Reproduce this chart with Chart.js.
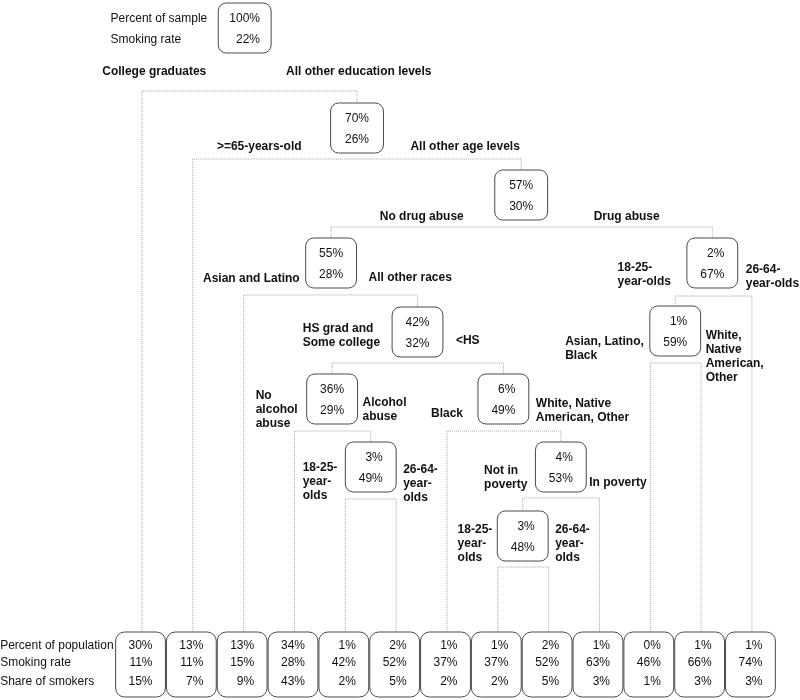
<!DOCTYPE html>
<html>
<head>
<meta charset="utf-8">
<script src="https://cdn.jsdelivr.net/npm/chart.js@4.4.1/dist/chart.umd.min.js"></script>
<style>
  body { margin: 0; background: #fff; }
  canvas { display: block; }
</style>
</head>
<body>
<canvas id="tree" width="800" height="700"></canvas>
<script>
"use strict"
// Werte der inneren Knoten (Reihenfolge: Wurzel, dann wie unten in leftChild/rightChild)
const nodeShare = [100, 70, 57, 55, 42, 36, 3, 6, 4, 3, 2, 1];
const nodeRate  = [22, 26, 30, 28, 32, 29, 49, 49, 53, 48, 67, 59];

// Blätter von links nach rechts
const leafShare   = [30, 13, 13, 34, 1, 2, 1, 1, 2, 1, 0, 1, 1];
const leafRate    = [11, 11, 15, 28, 42, 52, 37, 37, 52, 63, 46, 66, 74];
const leafSmokers = [15, 7, 9, 43, 2, 5, 2, 2, 5, 3, 1, 3, 3];

const topRowLabels  = ['Percent of sample', 'Smoking rate'];
const leafRowLabels = ['Percent of population', 'Smoking rate', 'Share of smokers'];

// Beschriftung der Äste (\n = Zeilenumbruch)
const leftLabels = ['College graduates', '>=65-years-old', 'No drug abuse', 'Asian and Latino',
  'HS grad and\nSome college', 'No\nalcohol\nabuse', '18-25-\nyear-\nolds', 'Black',
  'Not in\npoverty', '18-25-\nyear-\nolds', '18-25-\nyear-olds', 'Asian, Latino,\nBlack'];
const rightLabels = ['All other education levels', 'All other age levels', 'Drug abuse', 'All other races',
  '<HS', 'Alcohol\nabuse', '26-64-\nyear-\nolds', 'White, Native\nAmerican, Other',
  'In poverty', '26-64-\nyear-\nolds', '26-64-\nyear-olds', 'White,\nNative\nAmerican,\nOther'];

// Kinder: "L3" = Blatt 3, "N5" = Knoten 5
const leftChild  = ['L0', 'L1', 'N3', 'L2', 'N5', 'L3', 'L4', 'L6', 'N9', 'L7', 'N11', 'L10'];
const rightChild = ['N1', 'N2', 'N10', 'N4', 'N7', 'N6', 'L5', 'N8', 'L9', 'L8', 'L12', 'L11'];

// Layout: x in Blatt-Einheiten (Blatt i liegt bei x = i), y in Zeilen-Einheiten von oben
const nodeX   = [2.02, 4.23, 7.46, 3.72, 5.42, 3.74, 4.5, 7.11, 8.24, 7.49, 11.22, 10.49];
const nodeTop = [3, 103, 170, 238, 307, 374, 442, 374, 442, 511, 238, 306];
const splitY  = [91, 159, 227, 295, 363, 431, 499, 431, 498, 567, 296, 363];
const gapL = [12, 29, 31, 6, 12, 9, 8, 15, 8, 5, 16, 6];
const dyL  = [69, 44, 47, 41, 22, 22, 26, 40, 29, 19, 30, 36];
const gapR = [15, 27, 46, 12, 13, 5, 7, 7, 3, 7, 8, 5];
const dyR  = [69, 44, 47, 40, 34, 29, 28, 30, 41, 19, 32, 30];
const leafTop = 632;

const FONT = '"Liberation Sans", Arial, sans-serif';

function childPos(c) { // Position (x, Oberkante) eines Kindes
    const idx = parseInt(c.slice(1));
    if (c[0] == 'L') return {x: idx, top: leafTop};
    return {x: nodeX[idx], top: nodeTop[idx]};
}

// gepunktete Verbindungslinien als Linien-Datasets
const connectors = [];
for (let i = 0; i < nodeShare.length; i++) {
    const l = childPos(leftChild[i]);
    const r = childPos(rightChild[i]);
    connectors.push({
        type: 'line',
        data: [{x: l.x, y: l.top}, {x: l.x, y: splitY[i]}, {x: r.x, y: splitY[i]}, {x: r.x, y: r.top}],
        borderColor: '#a8a8a8',
        borderWidth: 1,
        borderDash: [1, 1],
        pointRadius: 0,
        fill: false,
        tension: 0
    });
}

function roundBox(ctx, x0, y0, w, h, r) {
    ctx.beginPath();
    ctx.roundRect(x0, y0, w, h, r);
    ctx.fillStyle = '#fff';
    ctx.fill();
    ctx.strokeStyle = '#4a4a4a';
    ctx.lineWidth = 1;
    ctx.stroke();
}

function drawBlock(ctx, text, xLeft, yFirst, lh) {
    text.split('\n').forEach((t, k) => ctx.fillText(t, xLeft, yFirst + k * lh));
}

function blockWidth(ctx, text) {
    return Math.max(...text.split('\n').map(t => ctx.measureText(t).width));
}

const treeBoxes = {
    id: 'treeBoxes',
    afterDatasetsDraw(chart) {
        const ctx = chart.ctx;
        const xs = chart.scales.x, ys = chart.scales.y;
        const unit = xs.getPixelForValue(1) - xs.getPixelForValue(0);
        ctx.save();
        ctx.textBaseline = 'middle';

        // innere Knoten
        for (let i = 0; i < nodeShare.length; i++) {
            const w = unit * (i < 3 ? 1.04 : 1.0);
            const cx = xs.getPixelForValue(nodeX[i]);
            const top = ys.getPixelForValue(nodeTop[i]);
            const bottom = ys.getPixelForValue(nodeTop[i] + 50);
            roundBox(ctx, cx - w / 2, top, w, bottom - top, 8);

            ctx.font = '12px ' + FONT;
            ctx.fillStyle = '#111';
            ctx.textAlign = 'right';
            const a = nodeShare[i] + '%', b = nodeRate[i] + '%';
            const tr = cx + Math.max(ctx.measureText(a).width, ctx.measureText(b).width) / 2;
            ctx.fillText(a, tr, top + 16);
            ctx.fillText(b, tr, top + 37);

            // Astbeschriftungen
            ctx.font = 'bold 12px ' + FONT;
            ctx.textAlign = 'left';
            const lw = blockWidth(ctx, leftLabels[i]);
            drawBlock(ctx, leftLabels[i], cx - w / 2 - gapL[i] - lw, top + dyL[i], 14);
            drawBlock(ctx, rightLabels[i], cx + w / 2 + gapR[i], top + dyR[i], 14);

            if (i == 0) { // Legende an der Wurzel
                ctx.font = '12px ' + FONT;
                const rw = blockWidth(ctx, topRowLabels.join('\n'));
                ctx.fillText(topRowLabels[0], cx - w / 2 - 11 - rw, top + 16);
                ctx.fillText(topRowLabels[1], cx - w / 2 - 11 - rw, top + 37);
            }
        }

        // Blätter
        const rows = [14, 31, 50];
        for (let i = 0; i < leafShare.length; i++) {
            const w = unit * 0.98;
            const cx = xs.getPixelForValue(i) - 1.5;
            const top = ys.getPixelForValue(leafTop);
            const bottom = ys.getPixelForValue(leafTop + 65);
            roundBox(ctx, cx - w / 2, top, w, bottom - top, 9);
            ctx.font = '12px ' + FONT;
            ctx.fillStyle = '#111';
            ctx.textAlign = 'right';
            const vals = [leafShare[i] + '%', leafRate[i] + '%', leafSmokers[i] + '%'];
            const tr = cx + Math.max(...vals.map(v => ctx.measureText(v).width)) / 2;
            vals.forEach((v, k) => ctx.fillText(v, tr, top + rows[k]));
            if (i == 0) {
                ctx.textAlign = 'left';
                const rw = blockWidth(ctx, leafRowLabels.join('\n'));
                leafRowLabels.forEach((t, k) => ctx.fillText(t, cx - w / 2 - 2 - rw, top + rows[k]));
            }
        }
        ctx.restore();
    }
};

const chart = new Chart(document.getElementById('tree'), {
    type: 'scatter',
    data: { datasets: connectors },
    options: {
        responsive: false,
        animation: false,
        layout: { padding: 0 },
        plugins: { legend: { display: false }, tooltip: { enabled: false } },
        scales: {
            x: { type: 'linear', display: false, min: -2.794, max: 12.945 },
            y: { type: 'linear', display: false, min: 0, max: 700, reverse: true }
        }
    },
    plugins: [treeBoxes]
});
</script>
</body>
</html>
